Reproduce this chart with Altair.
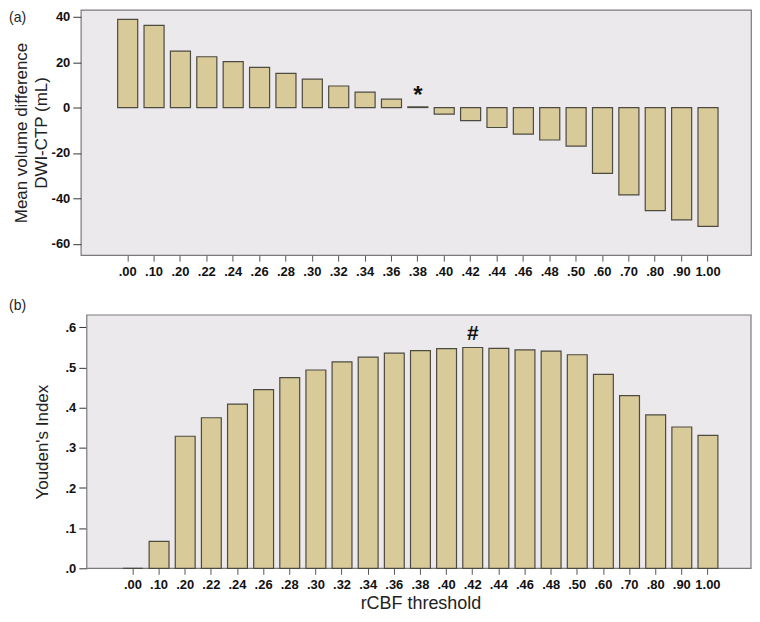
import altair as alt
import pandas as pd

# ---- data ----
thresholds = [".00", ".10", ".20", ".22", ".24", ".26", ".28", ".30", ".32", ".34",
              ".36", ".38", ".40", ".42", ".44", ".46", ".48", ".50", ".60", ".70",
              ".80", ".90", "1.00"]
mean_vol_diff = [38.9, 36.2, 24.9, 22.4, 20.2, 17.7, 15.1, 12.5, 9.5, 6.8,
                 3.7, 0.3, -2.9, -5.8, -8.8, -11.7, -14.3, -17.0, -29.0, -38.5,
                 -45.4, -49.5, -52.4]
youden = [0.0, 0.067, 0.329, 0.375, 0.409, 0.445, 0.475, 0.494, 0.514, 0.526,
          0.536, 0.542, 0.547, 0.550, 0.548, 0.544, 0.541, 0.532, 0.483, 0.430,
          0.382, 0.352, 0.331]
star_note = {"cat": ".38", "y": 2.0, "text": "*"}
hash_note = {"cat": ".42", "y": 0.568, "text": "#"}

FONT = "Liberation Sans"
BAR_FILL = "#d9cb99"
BAR_STROKE = "#4d4a40"
BG = "#ebe9ec"
FRAME = "#7a7a7a"

dfa = pd.DataFrame({"t": thresholds, "v": mean_vol_diff})
dfb = pd.DataFrame({"t": thresholds, "v": youden})

W_A, H_A = 672, 246
W_B, H_B = 672, 254
B_LEFT = 6

xscale_a = alt.Scale(domain=thresholds, paddingInner=0.24, paddingOuter=1.0,
                     range=[10.5, 665.4])
xscale_b = alt.Scale(domain=thresholds, paddingInner=0.24, paddingOuter=1.0,
                     range=[16.1, 665.0])

xaxis = dict(labelFont=FONT, labelFontSize=13, labelFontWeight="bold", labelColor="#111",
             labelAngle=0, tickSize=6, tickColor="#555", labelPadding=4,
             domain=False, grid=False)

# ---------- panel (a) ----------
ya = alt.Scale(domain=[-65.05, 43.08], nice=False, zero=False)
bars_a = alt.Chart(dfa).mark_bar(fill=BAR_FILL, stroke=BAR_STROKE, strokeWidth=1.2).encode(
    x=alt.X("t:N", sort=thresholds, scale=xscale_a,
            axis=alt.Axis(title=None, **xaxis)),
    y=alt.Y("v:Q", scale=ya,
            axis=alt.Axis(values=[-60, -40, -20, 0, 20, 40],
                          labelExpr="'' + datum.value",
                          title=["Mean volume difference", "DWI-CTP (mL)"],
                          titleFont=FONT, titleFontSize=17, titleFontWeight="normal",
                          titleColor="#222", titlePadding=1, titleLineHeight=20,
                          labelFont=FONT, labelFontSize=13, labelFontWeight="bold",
                          labelColor="#111", tickSize=8, tickColor="#333",
                          labelPadding=3, domain=False, grid=False)),
    y2=alt.datum(0),
)
star = alt.Chart(pd.DataFrame([star_note])).mark_text(
    font=FONT, fontSize=24, fontWeight="bold", baseline="alphabetic", color="#111"
).encode(x=alt.X("cat:N", sort=thresholds, scale=xscale_a), y=alt.Y("y:Q", scale=ya),
         text="text:N")
lab_a = alt.Chart(pd.DataFrame({"s": ["(a)"]})).mark_text(
    font=FONT, fontSize=14, align="left", baseline="top", color="#222"
).encode(x=alt.value(-72), y=alt.value(1), text="s:N")

panel_a = alt.layer(bars_a, star, lab_a).properties(width=W_A, height=H_A)

# ---------- panel (b) ----------
yb = alt.Scale(domain=[0, 0.631], nice=False)
frame_b = alt.Chart(pd.DataFrame({"k": [0]})).mark_rect(
    fill=BG, stroke=FRAME, strokeWidth=1.2
).encode(x=alt.value(B_LEFT), x2=alt.value(W_B), y=alt.value(0), y2=alt.value(H_B))
bars_b = alt.Chart(dfb).mark_bar(fill=BAR_FILL, stroke=BAR_STROKE, strokeWidth=1.2).encode(
    x=alt.X("t:N", sort=thresholds, scale=xscale_b,
            axis=alt.Axis(title="rCBF threshold", titleFont=FONT, titleFontSize=18,
                          titleFontWeight="normal", titleColor="#222", titlePadding=3,
                          **xaxis)),
    y=alt.Y("v:Q", scale=yb,
            axis=alt.Axis(values=[0, 0.1, 0.2, 0.3, 0.4, 0.5, 0.6],
                          labelExpr="replace(format(datum.value, '.1f'), '0.', '.')",
                          title="Youden's Index", offset=-B_LEFT,
                          titleFont=FONT, titleFontSize=17, titleFontWeight="normal",
                          titleColor="#222", titlePadding=14,
                          labelFont=FONT, labelFontSize=13, labelFontWeight="bold",
                          labelColor="#111", tickSize=8, tickColor="#333",
                          labelPadding=3, domain=False, grid=False)),
    y2=alt.datum(0),
)
hsh = alt.Chart(pd.DataFrame([hash_note])).mark_text(
    font=FONT, fontSize=21, fontWeight="bold", baseline="alphabetic", color="#111"
).encode(x=alt.X("cat:N", sort=thresholds, scale=xscale_b), y=alt.Y("y:Q", scale=yb),
         text="text:N")
lab_b = alt.Chart(pd.DataFrame({"s": ["(b)"]})).mark_text(
    font=FONT, fontSize=14, align="left", baseline="top", color="#222"
).encode(x=alt.value(-72), y=alt.value(-16), text="s:N")

panel_b = alt.layer(frame_b, bars_b, hsh, lab_b).properties(
    width=W_B, height=H_B, view=alt.ViewBackground(stroke=None, fill=None))

chart = alt.vconcat(panel_a, panel_b, spacing=20).properties(
    padding=0, background="white"
).configure_view(fill=BG, stroke=FRAME, strokeWidth=1.2)

chart.save("out.html", embed_options={"renderer": "svg", "actions": False})
